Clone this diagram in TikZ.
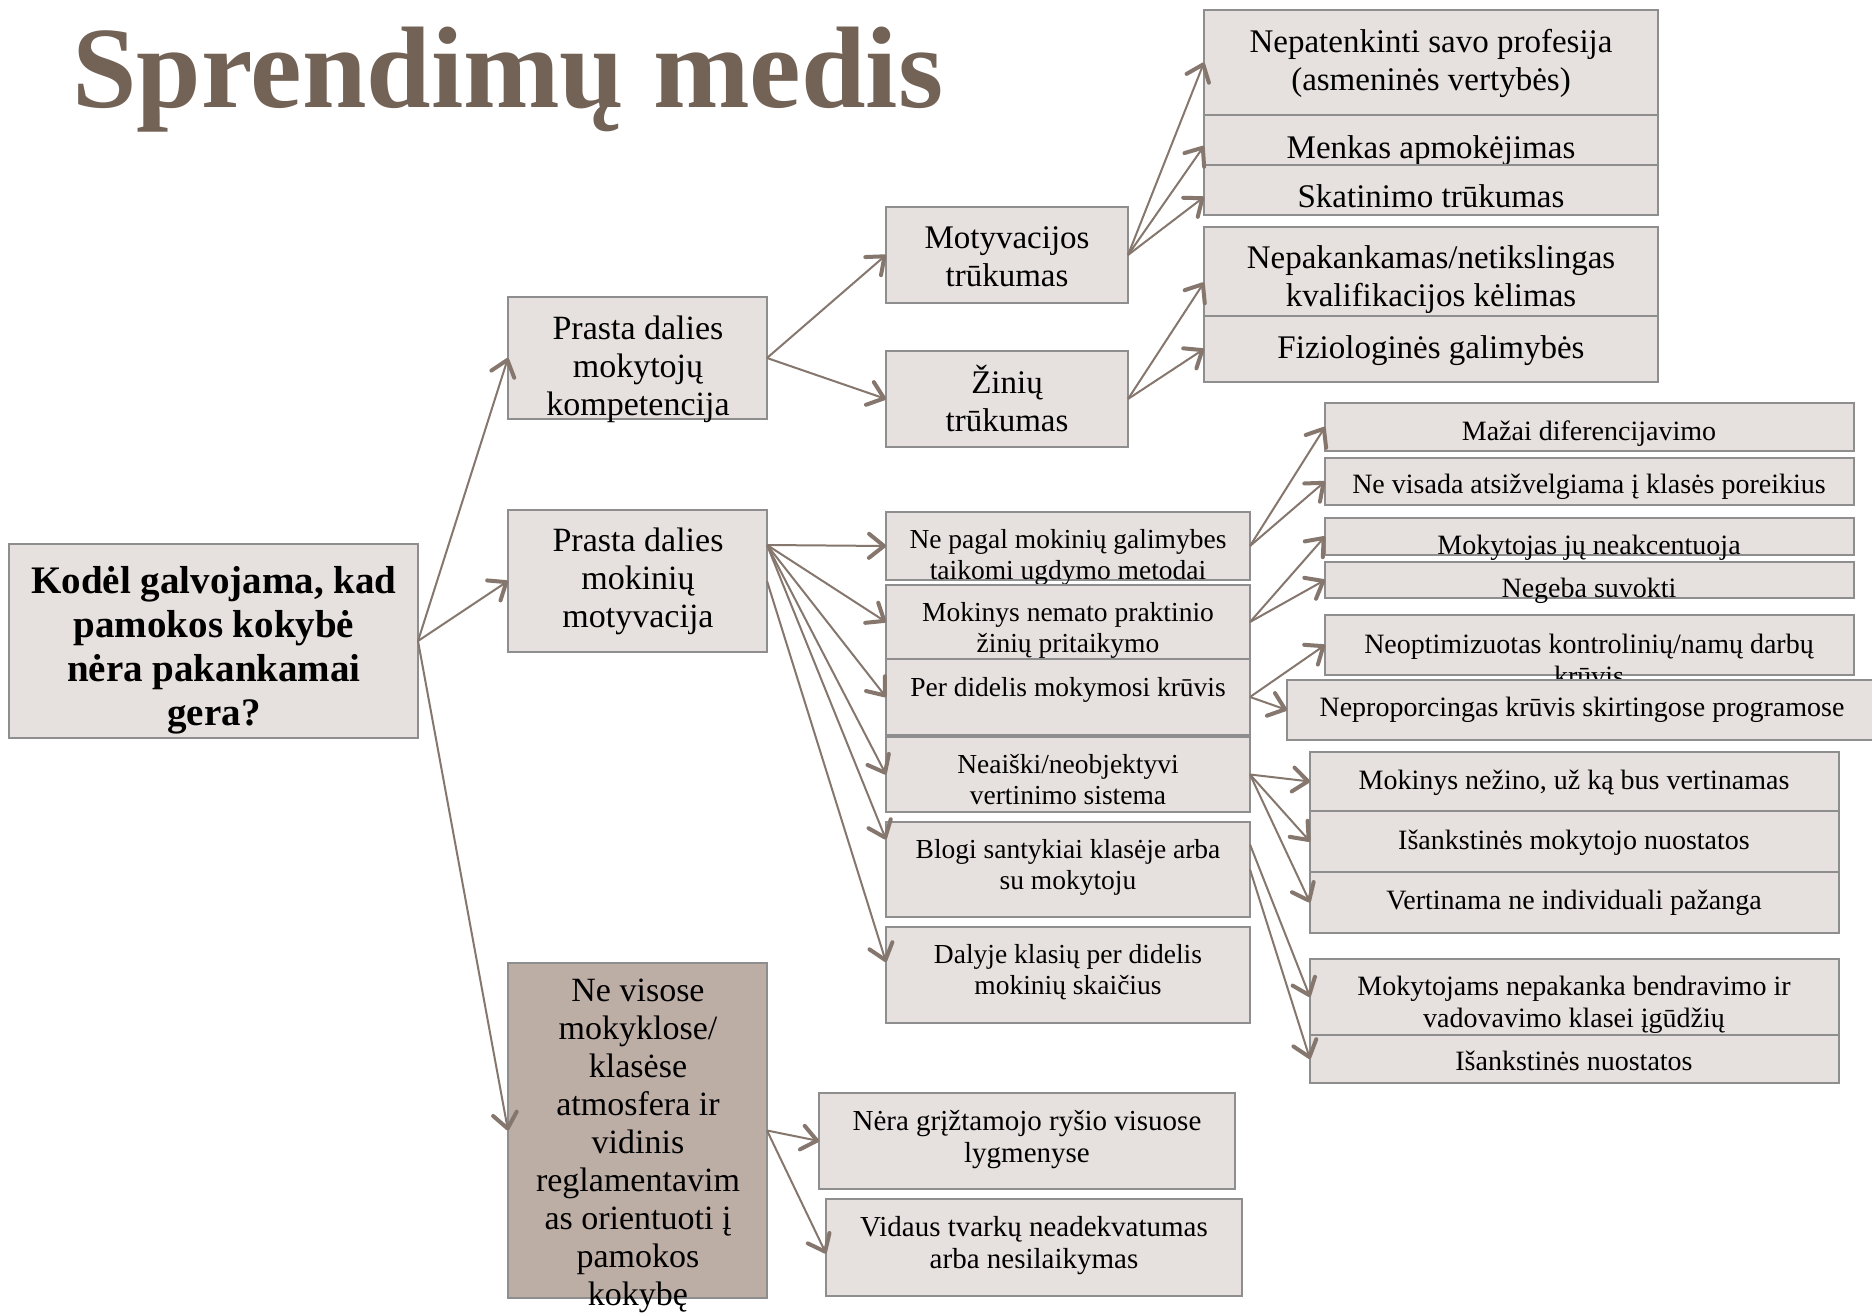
\documentclass[tikz,border=0pt]{standalone}
\usepackage{fontspec}
\setmainfont{Liberation Serif}
\usetikzlibrary{arrows.meta}
\definecolor{boxfill}{RGB}{230,224,222}
\definecolor{boxdark}{RGB}{188,173,165}
\definecolor{boxline}{RGB}{142,142,142}
\definecolor{arr}{RGB}{134,119,110}
\definecolor{titlec}{RGB}{115,99,87}
\tikzset{
  box/.style={draw=boxline, fill=boxfill, line width=2.5pt, inner sep=0pt, outer sep=0pt, rectangle},
  darkbox/.style={box, fill=boxdark},
  txt/.style={inner sep=0pt, align=center, text=black},
  fRoot/.style={txt, font=\fontsize{39}{44}\selectfont\bfseries},
  fL/.style={txt, font=\fontsize{34}{38}\selectfont},
  fA/.style={txt, font=\fontsize{33}{38}\selectfont},
  fB/.style={txt, font=\fontsize{27.5}{31}\selectfont},
  fBB/.style={txt, font=\fontsize{28}{32}\selectfont},
  fC/.style={txt, font=\fontsize{29}{32}\selectfont},
  conn/.style={draw=arr, line width=2pt, -{Straight Barb[length=15pt,width=24pt,line width=4pt,round]}},
}
\newcommand\mkbox[6][box]{\node[#1, anchor=north west, minimum width={(#5-#3)*1pt}, minimum height={(#6-#4)*1pt}] (#2) at (#3,#4) {};}
\begin{document}
\begin{tikzpicture}[x=1pt,y=-1pt]
\path[fill=white, use as bounding box] (0,0) rectangle (1872,1316);

\node[anchor=base west, inner sep=0pt, text=titlec, font=\fontsize{116}{124}\selectfont\bfseries] (title) at (72,108) {Sprendimų medis};

\mkbox{root}{9}{544}{418}{738}
\node[fRoot] (roott) at (214,650) {Kodėl galvojama, kad\\pamokos kokybė\\nėra pakankamai\\gera?};

\mkbox{A}{508}{297}{767}{419}
\node[fL] (At) at (638,369) {Prasta dalies\\mokytojų\\kompetencija};
\mkbox{B}{508}{510}{767}{652}
\node[fL] (Bt) at (638,581) {Prasta dalies\\mokinių\\motyvacija};
\mkbox[darkbox]{C}{508}{963}{767}{1298}
\node[fL] (Ct) at (638,1146) {Ne visose\\mokyklose/\\klasėse\\atmosfera ir\\vidinis\\reglamentavim\\as orientuoti į\\pamokos\\kokybę};

\mkbox{A1}{886}{207}{1128}{303}
\node[fA] (A1t) at (1007,257) {Motyvacijos\\trūkumas};
\mkbox{A2}{886}{351}{1128}{447}
\node[fA] (A2t) at (1007,398) {Žinių\\trūkumas};

\mkbox{A11}{1204}{10}{1658}{115}
\node[fA] (A11t) at (1431,63) {Nepatenkinti savo profesija\\(asmeninės vertybės)};
\mkbox{A12}{1204}{115}{1658}{165}
\node[fA] (A12t) at (1431,151) {Menkas apmokėjimas};
\mkbox{A13}{1204}{165}{1658}{215}
\node[fA] (A13t) at (1431,196) {Skatinimo trūkumas};
\mkbox{A21}{1204}{227}{1658}{316}
\node[fA] (A21t) at (1431,280) {Nepakankamas/netikslingas\\kvalifikacijos kėlimas};
\mkbox{A22}{1204}{316}{1658}{382}
\node[fA] (A22t) at (1431,351) {Fiziologinės galimybės};

\mkbox{B1}{886}{512}{1250}{580}
\node[fB] (B1t) at (1068,557) {Ne pagal mokinių galimybes\\taikomi ugdymo metodai};
\mkbox{B2}{886}{585}{1250}{659}
\node[fB] (B2t) at (1068,630) {Mokinys nemato praktinio\\žinių pritaikymo};
\mkbox{B3}{886}{659}{1250}{735}
\node[fB] (B3t) at (1068,690) {Per didelis mokymosi krūvis};
\mkbox{B4}{886}{737}{1250}{812}
\node[fB] (B4t) at (1068,780) {Neaiški/neobjektyvi\\vertinimo sistema};
\mkbox{B5}{886}{822}{1250}{917}
\node[fB] (B5t) at (1068,867) {Blogi santykiai klasėje arba\\su mokytoju};
\mkbox{B6}{886}{927}{1250}{1023}
\node[fB] (B6t) at (1068,972) {Dalyje klasių per didelis\\mokinių skaičius};

\mkbox{B11}{1325}{403}{1854}{451}
\node[fBB] (B11t) at (1589,434) {Mažai diferencijavimo};
\mkbox{B12}{1325}{458}{1854}{505}
\node[fBB] (B12t) at (1589,487) {Ne visada atsižvelgiama į klasės poreikius};
\mkbox{B21}{1325}{518}{1854}{555}
\node[fBB] (B21t) at (1589,548) {Mokytojas jų neakcentuoja};
\mkbox{B22}{1325}{562}{1854}{598}
\node[fBB] (B22t) at (1589,591) {Negeba suvokti};
\mkbox{B31}{1325}{615}{1854}{675}
\node[fBB] (B31t) at (1589,660) {Neoptimizuotas kontrolinių/namų darbų\\krūvis};
\mkbox{B32}{1287}{680}{1882}{740}
\node[fBB] (B32t) at (1582,710) {Neproporcingas krūvis skirtingose programose};
\mkbox{B41}{1310}{752}{1839}{811}
\node[fBB] (B41t) at (1574,783) {Mokinys nežino, už ką bus vertinamas};
\mkbox{B42}{1310}{811}{1839}{872}
\node[fBB] (B42t) at (1574,843) {Išankstinės mokytojo nuostatos};
\mkbox{B43}{1310}{872}{1839}{933}
\node[fBB] (B43t) at (1574,903) {Vertinama ne individuali pažanga};
\mkbox{B51}{1310}{959}{1839}{1035}
\node[fBB] (B51t) at (1574,1005) {Mokytojams nepakanka bendravimo ir\\vadovavimo klasei įgūdžių};
\mkbox{B52}{1310}{1035}{1839}{1083}
\node[fBB] (B52t) at (1574,1061) {Išankstinės nuostatos};

\mkbox{C1}{819}{1093}{1235}{1189}
\node[fC] (C1t) at (1027,1140) {Nėra grįžtamojo ryšio visuose\\lygmenyse};
\mkbox{C2}{826}{1199}{1242}{1296}
\node[fC] (C2t) at (1034,1246) {Vidaus tvarkų neadekvatumas\\arba nesilaikymas};

% connectors
\draw[conn] (root.east) -- (A.west);
\draw[conn] (root.east) -- (B.west);
\draw[conn] (root.east) -- (C.west);
\draw[conn] (A.east) -- (A1.west);
\draw[conn] (A.east) -- (A2.west);
\draw[conn] (A1.east) -- (A11.west);
\draw[conn] (A1.east) -- ([yshift=-6pt]A12.west);
\draw[conn] (A1.east) -- ([yshift=-7pt]A13.west);
\draw[conn] (A2.east) -- ([yshift=-11pt]A21.west);
\draw[conn] (A2.east) -- (A22.west);
\draw[conn] ([yshift=36pt]B.east) -- (B1.west);
\draw[conn] ([yshift=36pt]B.east) -- (B2.west);
\draw[conn] ([yshift=36pt]B.east) -- (B3.west);
\draw[conn] ([yshift=36pt]B.east) -- (B4.west);
\draw[conn] ([yshift=36pt]B.east) -- ([yshift=30pt]B5.west);
\draw[conn] (B.east) -- ([yshift=13pt]B6.west);
\draw[conn] (B1.east) -- (B11.west);
\draw[conn] (B1.east) -- (B12.west);
\draw[conn] (B2.east) -- (B21.west);
\draw[conn] (B2.east) -- (B22.west);
\draw[conn] (B3.east) -- (B31.west);
\draw[conn] (B3.east) -- (B32.west);
\draw[conn] (B4.east) -- (B41.west);
\draw[conn] (B4.east) -- (B42.west);
\draw[conn] (B4.east) -- (B43.west);
\draw[conn] ([yshift=25pt]B5.east) -- (B51.west);
\draw[conn] (B5.east) -- (B52.west);
\draw[conn] (C.east) -- (C1.west);
\draw[conn] (C.east) -- ([yshift=-6pt]C2.west);
\end{tikzpicture}
\end{document}
